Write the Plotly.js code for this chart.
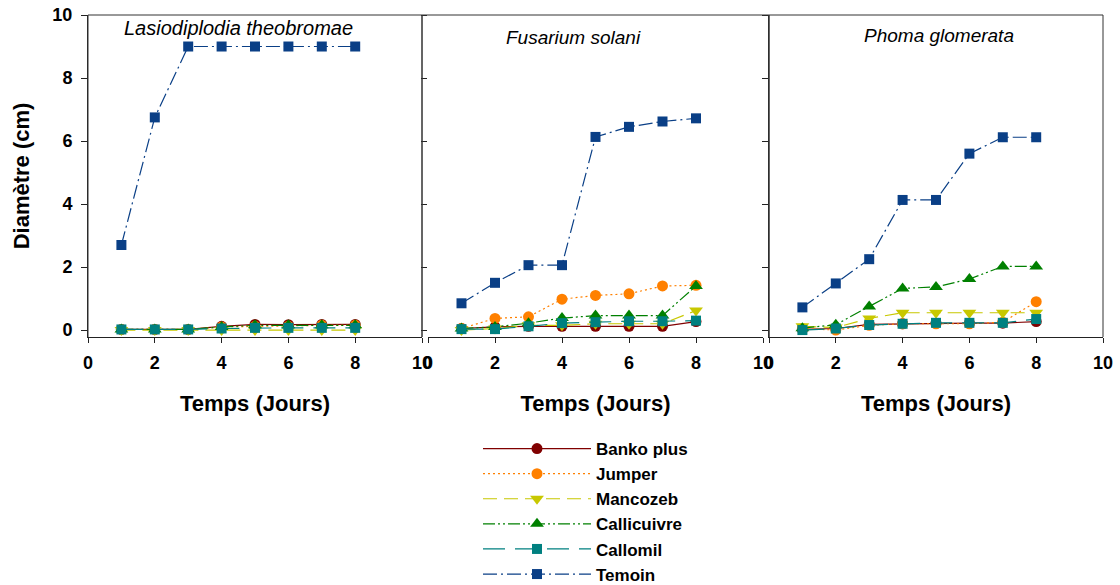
<!DOCTYPE html>
<html>
<head>
<meta charset="utf-8">
<script src="https://cdn.plot.ly/plotly-3.0.1.min.js"></script>
<style>html,body{margin:0;padding:0;background:#fff;}#chart{width:1120px;height:585px;}</style>
</head>
<body>
<div id="chart"></div>
<script>
// ---- data ----
const days = [1, 2, 3, 4, 5, 6, 7, 8];
const panelTitles = ["Lasiodiplodia theobromae", "Fusarium solani", "Phoma glomerata"];
const seriesNames = ["Banko plus", "Jumper", "Mancozeb", "Callicuivre", "Callomil", "Temoin"];

// Lasiodiplodia theobromae
const lasio_banko      = [0.02, 0.02, 0.02, 0.12, 0.18, 0.17, 0.18, 0.18];
const lasio_jumper     = [0.02, 0.02, 0.02, 0.10, 0.12, 0.12, 0.15, 0.15];
const lasio_mancozeb   = [0.00, 0.00, 0.00, 0.00, 0.00, 0.00, 0.00, 0.00];
const lasio_callicuivre= [0.02, 0.02, 0.02, 0.10, 0.15, 0.15, 0.15, 0.15];
const lasio_callomil   = [0.02, 0.02, 0.02, 0.05, 0.07, 0.07, 0.07, 0.07];
const lasio_temoin     = [2.70, 6.75, 9.00, 9.00, 9.00, 9.00, 9.00, 9.00];

// Fusarium solani
const fus_banko        = [0.05, 0.10, 0.12, 0.12, 0.12, 0.12, 0.12, 0.27];
const fus_jumper       = [0.05, 0.37, 0.42, 0.98, 1.10, 1.15, 1.40, 1.42];
const fus_mancozeb     = [0.00, 0.05, 0.15, 0.15, 0.20, 0.20, 0.20, 0.62];
const fus_callicuivre  = [0.05, 0.10, 0.22, 0.38, 0.46, 0.46, 0.46, 1.40];
const fus_callomil     = [0.03, 0.03, 0.12, 0.22, 0.25, 0.28, 0.28, 0.30];
const fus_temoin       = [0.85, 1.50, 2.06, 2.06, 6.13, 6.45, 6.62, 6.72];

// Phoma glomerata
const pho_banko        = [0.02, 0.05, 0.18, 0.20, 0.22, 0.22, 0.22, 0.27];
const pho_jumper       = [0.05, 0.00, 0.15, 0.20, 0.20, 0.20, 0.25, 0.90];
const pho_mancozeb     = [0.12, 0.08, 0.37, 0.55, 0.55, 0.55, 0.55, 0.55];
const pho_callicuivre  = [0.06, 0.17, 0.75, 1.32, 1.37, 1.62, 2.02, 2.02];
const pho_callomil     = [0.00, 0.05, 0.16, 0.20, 0.23, 0.23, 0.23, 0.35];
const pho_temoin       = [0.72, 1.48, 2.25, 4.13, 4.13, 5.60, 6.12, 6.12];

const xTicks = [0, 2, 4, 6, 8, 10];
const yTicks = [0, 2, 4, 6, 8, 10];

// ---- styles ----
const styles = [
  {color: "#800000", dash: "solid",                     symbol: "circle",        size: 11},
  {color: "#FF8000", dash: "2px,3px",                   symbol: "circle",        size: 11},
  {color: "#C8C800", dash: "14px,7px",                  symbol: "triangle-down", size: 12},
  {color: "#008000", dash: "12px,3px,2px,3px,2px,3px",  symbol: "triangle-up",   size: 12},
  {color: "#008080", dash: "22px,10px",                 symbol: "square",        size: 10},
  {color: "#0A3F86", dash: "14px,4px,2px,4px",          symbol: "square",        size: 10}
];

const panels = [
  [lasio_banko, lasio_jumper, lasio_mancozeb, lasio_callicuivre, lasio_callomil, lasio_temoin],
  [fus_banko, fus_jumper, fus_mancozeb, fus_callicuivre, fus_callomil, fus_temoin],
  [pho_banko, pho_jumper, pho_mancozeb, pho_callicuivre, pho_callomil, pho_temoin]
];

const traces = [];
panels.forEach((series, p) => {
  series.forEach((vals, i) => {
    const s = styles[i];
    traces.push({
      type: "scatter", mode: "lines+markers",
      x: days, y: vals,
      name: seriesNames[i],
      showlegend: p === 0,
      xaxis: p === 0 ? "x" : "x" + (p + 1),
      yaxis: p === 0 ? "y" : "y" + (p + 1),
      line: {color: s.color, width: 1.2, dash: s.dash},
      marker: {color: s.color, symbol: s.symbol, size: s.size, line: {width: 0}},
      hoverinfo: "x+y+name"
    });
  });
});

// ---- layout geometry (paper fractions) ----
const W = 1015, H = 322, L = 88, T = 15;
const px = v => (v - L) / W;
const py = v => (T + H - v) / H;

const FONT = "Liberation Sans, Arial, sans-serif";
const tickFont = {family: FONT, size: 18, color: "#000", weight: "bold"};
const titleFont = {family: FONT, size: 22, color: "#000", weight: "bold"};

const xDomains = [[px(88), px(422)], [px(428), px(763)], [px(769), 1]];

function xAxis(i) {
  return {
    domain: xDomains[i], range: [0, 10], anchor: i === 0 ? "y" : "y" + (i + 1),
    tickvals: xTicks, ticktext: xTicks.map(String),
    showline: true, linecolor: "#222", linewidth: 1,
    ticks: "outside", ticklen: 5, tickcolor: "#222", ticklabelstandoff: 4,
    showgrid: false, zeroline: false, tickfont: tickFont, automargin: false,
    title: {text: "Temps (Jours)", font: titleFont, standoff: 24}
  };
}
function yAxis(i) {
  const ax = {
    domain: [0, 1], range: [-0.22, 10], anchor: i === 0 ? "x" : "x" + (i + 1),
    tickvals: yTicks, automargin: false,
    ticks: "outside", ticklen: 6, tickcolor: "#222",
    showgrid: false, zeroline: false, tickfont: tickFont
  };
  if (i === 0) {
    ax.showline = true; ax.linecolor = "#222"; ax.linewidth = 1;
    ax.ticktext = yTicks.map(String);
    ax.ticklabelstandoff = 5;
    ax.title = {text: "Diamètre (cm)", font: titleFont, standoff: 16};
  } else {
    ax.showline = i === 2; ax.linecolor = "#222";
    ax.showticklabels = false;
  }
  return ax;
}

const frameLine = {color: "#333", width: 1};
const shapes = [
  {type: "path", xref: "paper", yref: "paper", path: `M0,0 L0,1 L${px(422)},1 L${px(422)},0`, line: frameLine},
  {type: "path", xref: "paper", yref: "paper", path: `M${px(422)},0 L${px(422)},1 L${px(769)},1 L${px(769)},0`, line: frameLine},
  {type: "path", xref: "paper", yref: "paper", path: `M${px(769)},0 L${px(769)},1 L1,1 L1,0`, line: frameLine}
];

const panelTitlePos = [[238, 28, 20], [573, 38, 19], [939, 36, 19]];
const annotations = panelTitles.map((t, i) => ({
  text: t, xref: "paper", yref: "paper",
  x: px(panelTitlePos[i][0]), y: py(panelTitlePos[i][1]),
  xanchor: "center", yanchor: "middle", showarrow: false,
  font: {family: FONT, size: panelTitlePos[i][2], color: "#000", style: "italic"}
}));

const layout = {
  width: 1120, height: 585,
  margin: {l: L, r: 1120 - 1103, t: T, b: 585 - T - H, autoexpand: false},
  paper_bgcolor: "#fff", plot_bgcolor: "#fff",
  showlegend: true,
  legend: {
    x: px(478), y: py(431), xanchor: "left", yanchor: "top",
    font: {family: FONT, size: 17, color: "#000", weight: "bold"},
    itemwidth: 108, tracegroupgap: 0, bgcolor: "rgba(0,0,0,0)"
  },
  xaxis: xAxis(0), xaxis2: xAxis(1), xaxis3: xAxis(2),
  yaxis: yAxis(0), yaxis2: yAxis(1), yaxis3: yAxis(2),
  shapes: shapes, annotations: annotations
};

Plotly.newPlot("chart", traces, layout, {displayModeBar: false, staticPlot: true});
</script>
</body>
</html>
